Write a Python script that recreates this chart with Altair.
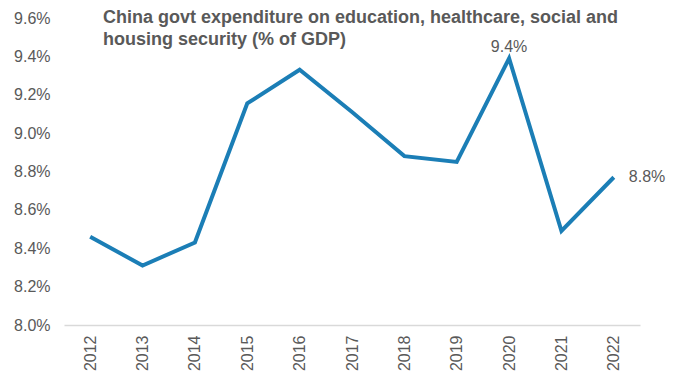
import altair as alt
import pandas as pd

years = ["2012", "2013", "2014", "2015", "2016", "2017", "2018", "2019", "2020", "2021", "2022"]
values = [8.46, 8.31, 8.43, 9.155, 9.33, 9.11, 8.88, 8.85, 9.39, 8.49, 8.77]
y_ticks = [8.0, 8.2, 8.4, 8.6, 8.8, 9.0, 9.2, 9.4, 9.6]
title_lines = ["China govt expenditure on education, healthcare, social and",
               "housing security (% of GDP)"]

df = pd.DataFrame({"year": years, "value": values})

FONT = "Liberation Sans, Arial, Helvetica, sans-serif"
GRAY = "#595959"
BLUE = "#1b7eb6"

x = alt.X("year:O", title=None,
          scale=alt.Scale(type="point", padding=0.5),
          axis=alt.Axis(labelAngle=270, labelPadding=10, ticks=False,
                        domainColor="#d9d9d9", domainWidth=1.5,
                        labelFontSize=16, labelColor=GRAY, labelFont=FONT))
y = alt.Y("value:Q", title=None,
          scale=alt.Scale(domain=[8.0, 9.6], nice=False, zero=False),
          axis=alt.Axis(values=y_ticks, labelExpr="format(datum.value, '.1f') + '%'",
                        ticks=False, domain=False, grid=False, labelPadding=14,
                        labelFontSize=16, labelColor=GRAY, labelFont=FONT))

base = alt.Chart(df)

line = base.mark_line(color=BLUE, strokeWidth=4).encode(x=x, y=y)

lbl_top = base.transform_filter(alt.datum.year == "2020").transform_calculate(
    lab="format(datum.value, '.1f') + '%'"
).mark_text(dy=-3, baseline="bottom", align="center", fontSize=16, color=GRAY, font=FONT).encode(
    x=x, y=y, text="lab:N")

lbl_right = base.transform_filter(alt.datum.year == "2022").transform_calculate(
    lab="format(datum.value, '.1f') + '%'"
).mark_text(dx=15, baseline="middle", align="left", fontSize=16, color=GRAY, font=FONT).encode(
    x=x, y=y, text="lab:N")

chart = alt.layer(line, lbl_top, lbl_right).properties(
    width=576, height=307,
    autosize=alt.AutoSizeParams(type="none"),
    padding={"left": 64, "top": 18, "right": 43, "bottom": 48},
    title=alt.TitleParams(text=title_lines, anchor="start", frame="group", orient="top",
                          dx=39, offset=-39, baseline="top", fontSize=18, fontWeight="bold",
                          color=GRAY, font=FONT, lineHeight=22),
).configure_view(stroke=None)

chart.save("out.html", embed_options={"renderer": "svg", "actions": False})
